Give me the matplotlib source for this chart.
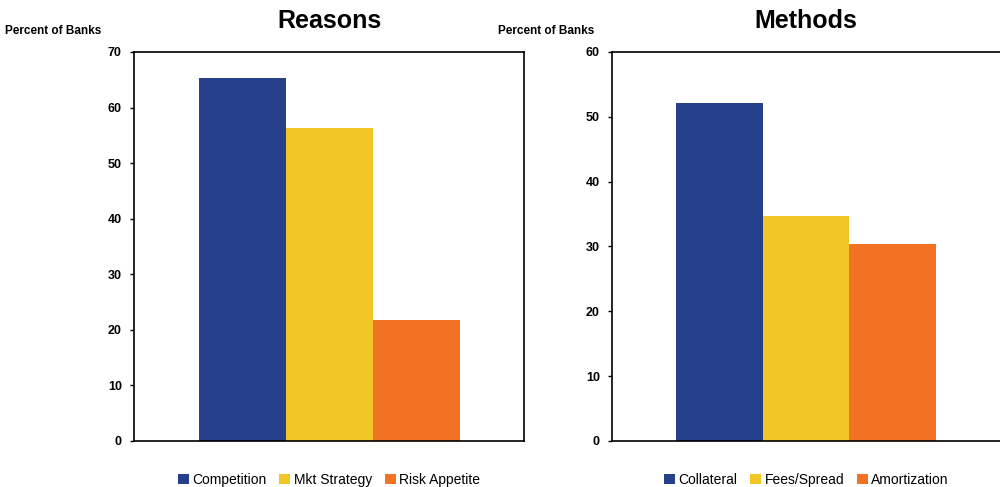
import matplotlib
matplotlib.use("Agg")
import matplotlib.pyplot as plt
from matplotlib.patches import Patch

# ---------------------------------------------------------------------------
# Data
# ---------------------------------------------------------------------------
reason_labels = ["Competition", "Mkt Strategy", "Risk Appetite"]
reason_values = [65.3, 56.3, 21.8]

method_labels = ["Collateral", "Fees/Spread", "Amortization"]
method_values = [52.1, 34.7, 30.4]

COLOURS = ["#27408B", "#F2C624", "#F27224"]
FONT = ["Liberation Sans", "DejaVu Sans"]

fig = plt.figure(figsize=(10, 4.87), dpi=100, facecolor="white")
ax_l = fig.add_axes([0.1343, 0.0945, 0.3897, 0.7988])
ax_r = fig.add_axes([0.6123, 0.0945, 0.3877, 0.7988])


def draw_panel(ax, labels, values, ymax, title, fig_x_label):
    pos = [-1, 0, 1]
    for p, v, c, lbl in zip(pos, values, COLOURS, labels):
        ax.bar(p, v, width=1.0, color=c, label=lbl, zorder=2)
    ax.set_xlim(-2.24, 2.24)
    ax.set_ylim(0, ymax)
    ax.set_xticks([])
    ax.set_yticks(range(0, ymax + 1, 10))
    ax.tick_params(axis="y", length=3, width=1, pad=6)
    for t in ax.get_yticklabels():
        t.set_fontfamily(FONT)
        t.set_fontweight("bold")
        t.set_fontsize(9)
    for sp in ax.spines.values():
        sp.set_linewidth(1.2)
        sp.set_color("black")
    ax.set_title(title, fontsize=18, fontweight="bold", family=FONT, pad=17)
    fig.text(fig_x_label, 0.937, "Percent of Banks", fontsize=8.5,
             fontweight="bold", family=FONT, ha="left", va="center")
    handles = [Patch(facecolor=c, edgecolor="none") for c in COLOURS]
    ax.legend(handles, labels, loc="upper center",
              bbox_to_anchor=(0.5, -0.05), ncol=3, frameon=False,
              handlelength=0.8, handleheight=0.8, handletextpad=0.25,
              columnspacing=0.9, prop={"family": FONT, "size": 10})


draw_panel(ax_l, reason_labels, reason_values, 70, "Reasons", 0.005)
draw_panel(ax_r, method_labels, method_values, 60, "Methods", 0.498)
ax_r.spines["right"].set_visible(False)

fig.savefig("out.png", dpi=100, facecolor="white")
